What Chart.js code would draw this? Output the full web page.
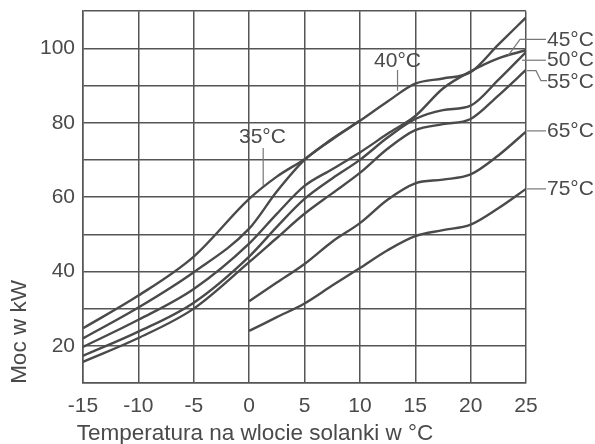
<!DOCTYPE html>
<html>
<head>
<meta charset="utf-8">
<script src="https://cdn.jsdelivr.net/npm/chart.js@4"></script>
<style>
  body { margin: 0; background: #fff; }
</style>
</head>
<body>
<canvas id="mocChart" width="595" height="444"></canvas>
<script>
// temperatura solanki (oś X)
const tempMain = [-15, -10, -5, 0, 2.5, 5, 7.5, 10, 12.5, 15, 17.5, 20, 22.5, 25];
const temp35 = [-15, -10, -5, 0, 2.5, 5, 7.5, 10];
const tempLate = [0, 2.5, 5, 7.5, 10, 12.5, 15, 17.5, 20, 22.5, 25];

// moc w kW dla kolejnych temperatur zasilania
const moc35 = [24.7, 33.5, 44, 59.5, 65.5, 70.2, 75.7, 80.5];
const moc40 = [22, 30.3, 39.8, 51.5, 61.5, 70, 75.5, 80.5, 85.7, 90.5, 91.9, 93.6, 101, 108.3];
const moc45 = [19.7, 27, 35.3, 47.5, 55.5, 63, 67.5, 72, 77, 81.8, 89.2, 93.8, 97.3, 99.5];
const moc50 = [17.3, 23.8, 31.6, 44, 52, 59.5, 65, 70, 76, 81, 83.4, 84.6, 91.5, 99];
const moc55 = [15.7, 22.1, 30, 42.5, 49, 55.5, 61, 66.5, 73, 78, 79.6, 81, 87.3, 94.2];
const moc65 = [32, 37, 42, 48, 53, 59.3, 63.7, 64.7, 66.1, 71.2, 77.6];
const moc75 = [24, 27.7, 31.4, 36.2, 40.9, 45.7, 49.5, 51.1, 52.6, 57, 62.2];

const xTickValues = [-15, -10, -5, 0, 5, 10, 15, 20, 25];
const yLabelValues = [20, 40, 60, 80, 100];

const ink = '#4a4a4a';
const font = '"Liberation Sans", Arial, sans-serif';

function pts(xs, ys) {
    return xs.map((t, i) => ({ x: t, y: ys[i] }));
}

const series = [
    { label: '35°C', data: pts(temp35, moc35) },
    { label: '40°C', data: pts(tempMain, moc40) },
    { label: '45°C', data: pts(tempMain, moc45) },
    { label: '50°C', data: pts(tempMain, moc50) },
    { label: '55°C', data: pts(tempMain, moc55) },
    { label: '65°C', data: pts(tempLate, moc65) },
    { label: '75°C', data: pts(tempLate, moc75) }
];

// opisy krzywych i tytuły osi
const annotations = {
    id: 'annotations',
    afterDatasetsDraw(chart) {
        const { ctx, chartArea: a, scales: { x, y } } = chart;
        ctx.save();
        ctx.strokeStyle = '#777';
        ctx.lineWidth = 1.2;
        ctx.fillStyle = ink;
        ctx.font = '21px ' + font;
        ctx.textBaseline = 'middle';

        const line = (p) => {
            ctx.beginPath();
            ctx.moveTo(p[0][0], p[0][1]);
            p.slice(1).forEach(q => ctx.lineTo(q[0], q[1]));
            ctx.stroke();
        };

        // 35°C
        ctx.textAlign = 'center';
        ctx.fillText('35°C', x.getPixelForValue(1.2), y.getPixelForValue(76));
        line([[x.getPixelForValue(1.27), y.getPixelForValue(73.2)], [x.getPixelForValue(1.27), y.getPixelForValue(63)]]);
        // 40°C
        ctx.fillText('40°C', x.getPixelForValue(13.4), y.getPixelForValue(96.6));
        line([[x.getPixelForValue(13.4), y.getPixelForValue(94.2)], [x.getPixelForValue(13.4), y.getPixelForValue(88.6)]]);

        // etykiety po prawej
        const r = a.right;
        ctx.textAlign = 'left';
        ctx.fillText('45°C', r + 21, y.getPixelForValue(102.2));
        line([[r + 20, y.getPixelForValue(102.4)], [r - 6, y.getPixelForValue(102.4)], [x.getPixelForValue(23.4), y.getPixelForValue(98.1)]]);
        ctx.fillText('50°C', r + 21, y.getPixelForValue(96.8));
        line([[r + 20, y.getPixelForValue(96.8)], [r - 4, y.getPixelForValue(96.8)]]);
        ctx.fillText('55°C', r + 21, y.getPixelForValue(90.8));
        line([[r + 21, y.getPixelForValue(91.3)], [r + 15, y.getPixelForValue(91.3)], [r + 10, y.getPixelForValue(94)], [r + 1, y.getPixelForValue(94)]]);
        ctx.fillText('65°C', r + 21, y.getPixelForValue(77.8));
        line([[r + 20, y.getPixelForValue(77.8)], [r + 1, y.getPixelForValue(77.8)]]);
        ctx.fillText('75°C', r + 21, y.getPixelForValue(62.2));
        line([[r + 20, y.getPixelForValue(62.2)], [r + 1, y.getPixelForValue(62.2)]]);

        // tytuły osi
        ctx.font = '22.5px ' + font;
        ctx.textAlign = 'center';
        ctx.fillText('Temperatura na wlocie solanki w °C', 255, 434);
        ctx.translate(20, 332);
        ctx.rotate(-Math.PI / 2);
        ctx.fillText('Moc w kW', 0, 0);
        ctx.restore();
    }
};

new Chart(document.getElementById('mocChart').getContext('2d'), {
    type: 'line',
    data: {
        datasets: series.map(s => ({
            label: s.label,
            data: s.data,
            borderColor: ink,
            borderWidth: 2.4,
            pointRadius: 0,
            fill: false,
            cubicInterpolationMode: 'monotone'
        }))
    },
    options: {
        responsive: false,
        animation: false,
        layout: { padding: { top: 0, right: 69, left: 0, bottom: 0 } },
        plugins: {
            legend: { display: false },
            tooltip: { enabled: false }
        },
        scales: {
            x: {
                type: 'linear',
                min: -15,
                max: 25,
                afterFit: s => { s.height = 61; },
                afterBuildTicks: s => { s.ticks = xTickValues.map(v => ({ value: v })); },
                grid: { color: '#555', lineWidth: 1.5, drawTicks: false },
                border: { color: '#555', width: 1.5 },
                ticks: { color: ink, font: { size: 21, family: font }, padding: 11, maxRotation: 0 }
            },
            y: {
                type: 'linear',
                min: 10,
                max: 110,
                afterFit: s => { s.width = 83; },
                ticks: {
                    stepSize: 10,
                    color: ink,
                    padding: 8,
                    font: { size: 21, family: font, lineHeight: 0.3 },
                    callback: v => yLabelValues.includes(v) ? v : ''
                },
                grid: { color: '#555', lineWidth: 1.5, drawTicks: false },
                border: { color: '#555', width: 1.5 }
            }
        }
    },
    plugins: [annotations]
});
</script>
</body>
</html>
